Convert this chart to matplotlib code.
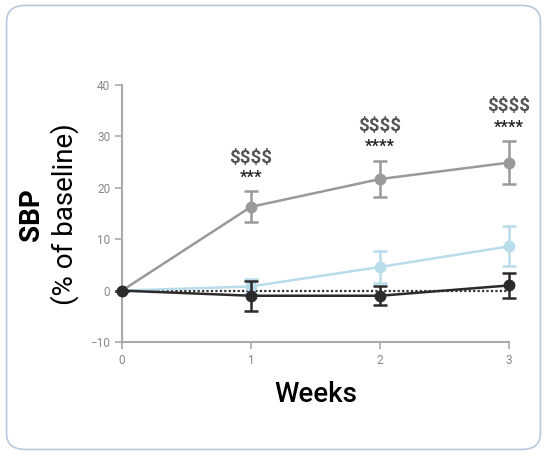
import matplotlib.pyplot as plt
from matplotlib.patches import FancyBboxPatch

plt.rcParams['font.family'] = ['Roboto', 'DejaVu Sans']

# data
weeks = [0, 1, 2, 3]
gray_mean = [0, 16.3, 21.7, 24.9]
gray_err = [0, 3.0, 3.5, 4.2]
blue_mean = [0, 0.8, 4.6, 8.6]
blue_err = [0, 1.5, 3.1, 3.9]
black_mean = [0, -1.0, -1.0, 1.0]
black_err = [0, 2.9, 1.8, 2.5]
ref_line = [0, 0, 0, 0]

dollar_y = [25.8, 32.0, 35.9]
star_y = [22.0, 28.0, 31.7]
star_text = ['***', '****', '****']

fig = plt.figure(figsize=(5.47, 4.54), dpi=100)

# rounded frame around the panel
frame = FancyBboxPatch((0.012, 0.01), 0.976, 0.978, boxstyle='round,pad=0,rounding_size=0.035',
                       transform=fig.transFigure, fill=False, edgecolor='#b9c9dd', linewidth=1.2)
fig.patches.append(frame)

ax = fig.add_axes([0.223, 0.2467, 0.7075, 0.5661])

ax.plot(weeks, ref_line, linestyle=(0, (1, 1)), color='#333333', linewidth=1.6, zorder=1)

ax.errorbar(weeks, gray_mean, yerr=gray_err, color='#999999', marker='o', markersize=7.5,
            linewidth=1.8, capsize=5, capthick=1.8, elinewidth=1.8, clip_on=False, zorder=3)
ax.errorbar(weeks, blue_mean, yerr=blue_err, color='#b8dcea', marker='o', markersize=7.5,
            linewidth=1.8, capsize=5, capthick=1.8, elinewidth=1.8, clip_on=False, zorder=4)
ax.errorbar(weeks, black_mean, yerr=black_err, color='#2b2b2b', marker='o', markersize=7.5,
            linewidth=1.8, capsize=5, capthick=1.8, elinewidth=1.8, clip_on=False, zorder=5)

for x, dy, sy, st in zip(weeks[1:], dollar_y, star_y, star_text):
    ax.text(x, dy, '$$$$', ha='center', va='center', fontsize=13.5, fontweight='bold',
            color='#555555', parse_math=False)
    ax.text(x, sy, st, ha='center', va='center', fontsize=12, fontweight='bold', color='#222222')

ax.set_xlim(0, 3)
ax.set_ylim(-10, 40)
ax.set_xticks(weeks)
ax.set_yticks([-10, 0, 10, 20, 30, 40])
ax.tick_params(colors='#aaaaaa', labelsize=8.5, length=5, width=1.2, labelcolor='#888888')
for side in ['top', 'right']:
    ax.spines[side].set_visible(False)
for side in ['left', 'bottom']:
    ax.spines[side].set_color('#aaaaaa')
    ax.spines[side].set_linewidth(1.5)

fig.text(0.058, 0.528, 'SBP', rotation=90, ha='center', va='center', fontsize=20, fontweight='bold')
fig.text(0.118, 0.528, '(% of baseline)', rotation=90, ha='center', va='center', fontsize=20)
ax.set_xlabel('Weeks', fontsize=20, fontweight='medium', labelpad=10)

fig.savefig('out.png', dpi=100)
